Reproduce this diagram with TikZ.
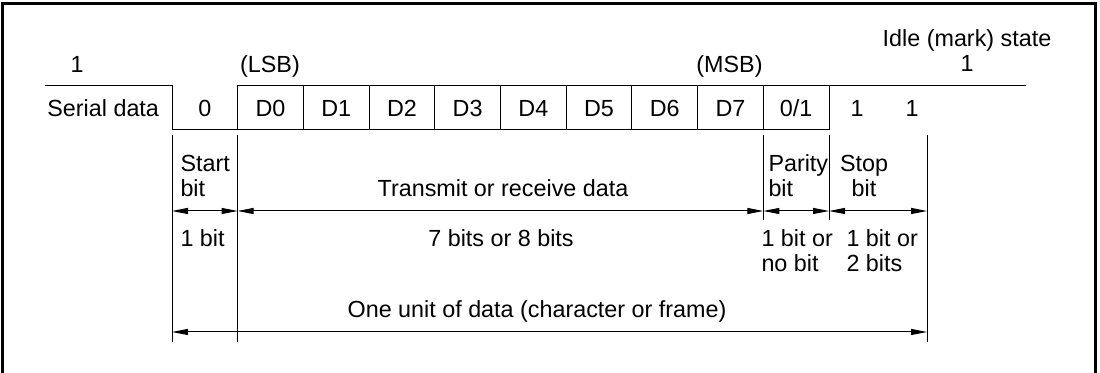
\documentclass[tikz,border=0pt]{standalone}
\usepackage{fontspec}
\setmainfont{Liberation Sans}
\usetikzlibrary{arrows.meta}

\tikzset{every picture/.style={line width=0.75pt}}
\tikzset{
  lbl/.style={inner sep=0pt, font=\fontsize{17.5}{18.75}\selectfont},
  celltxt/.style={lbl, outer sep=0pt, minimum width=49.275pt, minimum height=33pt, text height=12.5pt, text depth=0pt},
  cell/.style={celltxt, draw},
  dimline/.style={{Triangle[length=12pt,width=4.5pt]}-{Triangle[length=12pt,width=4.5pt]}},
}

\begin{document}
\begin{tikzpicture}[x=0.75pt,y=0.75pt,yscale=-1,xscale=1]
\useasboundingbox (0,0) rectangle (1100,373);

%Shape: Frame
\draw [line width=2.25pt] (2.7,373) -- (2.7,3.3) -- (1095,3.3) -- (1095,373);

%Straight Lines: serial data level
\coordinate (lvlL) at (45,86);
\coordinate (lvlR) at (1026,86);
\draw (lvlL) -- (172,86) -- (172,130) -- (237.7,130) -- (237.7,86) -- (lvlR);

%Shape: bit cells
\node [celltxt] (bit0) at (204.85,108) {0};
\node [cell] (d0) at (270.55,108) {D0};
\node [cell] (d1) at (336.25,108) {D1};
\node [cell] (d2) at (401.95,108) {D2};
\node [cell] (d3) at (467.65,108) {D3};
\node [cell] (d4) at (533.35,108) {D4};
\node [cell] (d5) at (599.05,108) {D5};
\node [cell] (d6) at (664.75,108) {D6};
\node [cell] (d7) at (730.45,108) {D7};
\node [cell] (par) at (796.15,108) {0/1};
\node [celltxt] (stopa) at (857,108) {1};
\node [celltxt] (stopb) at (912,108) {1};

% Text Node
\node [lbl, anchor=base] (serial) at (103.2,117) {Serial data};
\node [lbl, anchor=base] (mark) at (77,73) {1};
\node [lbl, anchor=base] (lsb) at (270,73) {(LSB)};
\node [lbl, anchor=base] (msb) at (729.5,73) {(MSB)};
\node [lbl, anchor=base] (idle) at (967,47) {Idle (mark) state};
\node [lbl, anchor=base] (idlea) at (967,72) {1};

%Straight Lines: extension lines
\coordinate (xs) at (172,135);
\coordinate (xd) at (237.7,135);
\coordinate (xp) at (763.3,135);
\coordinate (xq) at (829,135);
\coordinate (xe) at (927,135);
\draw (xs) -- ++(0,207);
\draw (xd) -- ++(0,207);
\draw (xp) -- ++(0,85);
\draw (xq) -- ++(0,85);
\draw (xe) -- ++(0,207);

%Straight Lines: dimension arrows
\coordinate (u0) at (172,211);
\coordinate (u1) at (237.7,211);
\coordinate (u2) at (763.3,211);
\coordinate (u3) at (829,211);
\coordinate (u4) at (927,211);
\coordinate (w0) at (172,332);
\coordinate (w4) at (927,332);
\draw [dimline] (u0) -- (u1);
\draw [dimline] (u1) -- (u2);
\draw [dimline] (u2) -- (u3);
\draw [dimline] (u3) -- (u4);
\draw [dimline] (w0) -- (w4);

% Text Node (two-line labels sit on their last baseline)
\node [lbl, anchor=base west, align=left] (startlbl) at (180,197) {Start\\bit};
\node [lbl, anchor=base west] (startlen) at (180,247) {1 bit};
\node [lbl, anchor=base] (datalbl) at (503,197) {Transmit or receive data};
\node [lbl, anchor=base] (datalen) at (501,247) {7 bits or 8 bits};
\node [lbl, anchor=base west, align=left] (parlbl) at (768,197) {Parity\\bit};
\node [lbl, anchor=base west, align=left] (parlen) at (761,272) {1 bit or\\no bit};
\node [lbl, anchor=base, align=center] (stoplbl) at (864,197) {Stop\\bit};
\node [lbl, anchor=base west, align=left] (stoplen) at (846,272) {1 bit or\\2 bits};
\node [lbl, anchor=base] (unitlbl) at (537,318) {One unit of data (character or frame)};

\end{tikzpicture}
\end{document}
